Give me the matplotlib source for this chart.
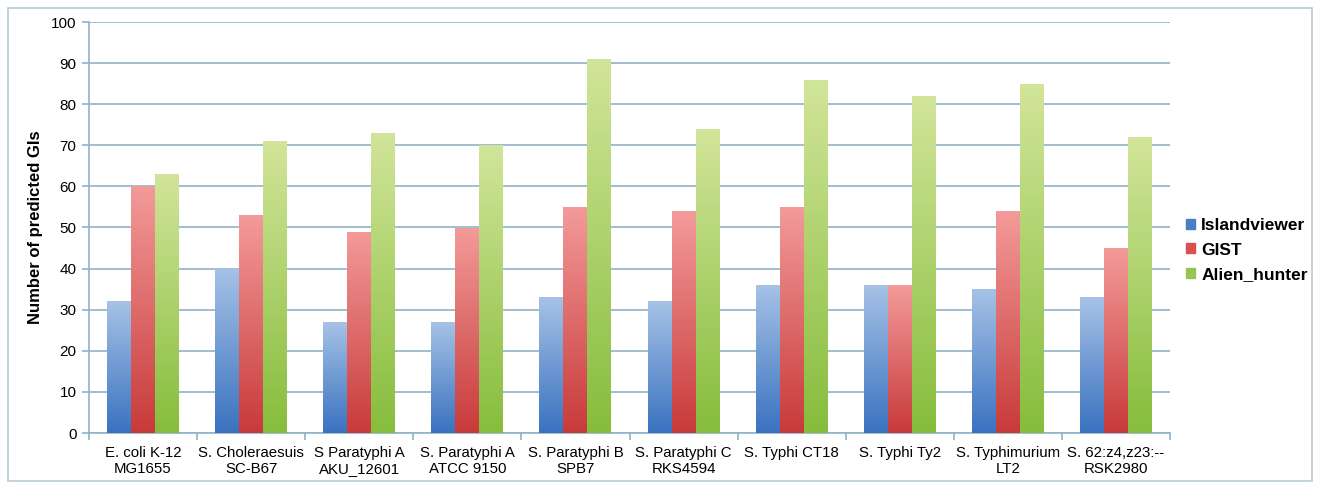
import matplotlib
matplotlib.use("Agg")
import matplotlib.pyplot as plt
import numpy as np
from matplotlib.colors import LinearSegmentedColormap
from matplotlib.patches import Rectangle

categories = ["E. coli K-12\nMG1655", "S. Choleraesuis\nSC-B67", "S Paratyphi A\nAKU_12601",
              "S. Paratyphi A\nATCC 9150", "S. Paratyphi B\nSPB7", "S. Paratyphi C\nRKS4594",
              "S. Typhi CT18", "S. Typhi Ty2", "S. Typhimurium\nLT2", "S. 62:z4,z23:--\nRSK2980"]
islandviewer = [32, 40, 27, 27, 33, 32, 36, 36, 35, 33]
gist = [60, 53, 49, 50, 55, 54, 55, 36, 54, 45]
alien_hunter = [63, 71, 73, 70, 91, 74, 86, 82, 85, 72]
series_names = ["Islandviewer", "GIST", "Alien_hunter"]
yticks = list(range(0, 101, 10))

plt.rcParams['font.family'] = ['Liberation Sans', 'DejaVu Sans']

fig = plt.figure(figsize=(13.21, 4.9), dpi=100)
fig.patches.append(Rectangle((8/1321, 1-481/490), (1312-8)/1321, (481-8)/490,
                             transform=fig.transFigure, fill=False, edgecolor='#b9c9d6', lw=1.2))
ax = fig.add_axes([89/1321, 1-433/490, (1170-89)/1321, (433-22)/490])

grads = [("#a6c2e6", "#3a72c0"), ("#f39b9a", "#c83a3a"), ("#d2e59a", "#86bd3c")]
legend_cols = ["#4a7fc8", "#d9504e", "#98c454"]
w = 0.222
x = np.arange(len(categories))
data = [islandviewer, gist, alien_hunter]
handles = []
for i, (vals, (ctop, cbot)) in enumerate(zip(data, grads)):
    cmap = LinearSegmentedColormap.from_list("g%d" % i, [cbot, ctop])
    bars = ax.bar(x + (i - 1) * w, vals, w, color='none', edgecolor='none', zorder=3)
    for b in bars:
        x0, y0 = b.get_x(), b.get_y()
        bw, bh = b.get_width(), b.get_height()
        grad = np.linspace(0, 1, 256).reshape(-1, 1)
        im = ax.imshow(grad, cmap=cmap, origin='lower', aspect='auto',
                       extent=[x0, x0 + bw, y0, y0 + bh], zorder=3, interpolation='bicubic')
        im.set_clip_path(b)
    handles.append(Rectangle((0, 0), 1, 1, color=legend_cols[i], label=series_names[i]))

ax.set_xlim(-0.5, len(categories) - 0.5)
ax.set_ylim(0, 100)
ax.set_yticks(yticks)
ax.set_yticklabels([str(t) for t in yticks], fontsize=11)
ax.yaxis.grid(True, color='#8fb3c7', lw=1.2, zorder=0)
ax.set_axisbelow(True)
ax.set_xticks(x)
ax.set_xticklabels(categories, fontsize=10.8, linespacing=1.2)
ax.tick_params(axis='x', length=0, pad=9)
ax.set_xticks(np.arange(-0.5, len(categories)), minor=True)
ax.tick_params(axis='x', which='minor', length=5, color='#8fb3c7', width=1.2)
ax.tick_params(axis='y', length=5, color='#8fb3c7', width=1.2, pad=4)
for s in ['top', 'right']:
    ax.spines[s].set_visible(False)
for s in ['left', 'bottom']:
    ax.spines[s].set_color('#8fb3c7')
    ax.spines[s].set_linewidth(1.2)
ax.set_ylabel("Number of predicted GIs", fontsize=12, fontweight='bold', labelpad=6)

fig.legend(handles=handles, loc='center left', bbox_to_anchor=(1183/1321, 1-250/490), frameon=False,
           prop={'weight': 'bold', 'size': 12.5}, handlelength=0.5, handleheight=0.5,
           handletextpad=0.35, labelspacing=0.55, borderaxespad=0, borderpad=0.2)
fig.savefig("out.png", dpi=100)
